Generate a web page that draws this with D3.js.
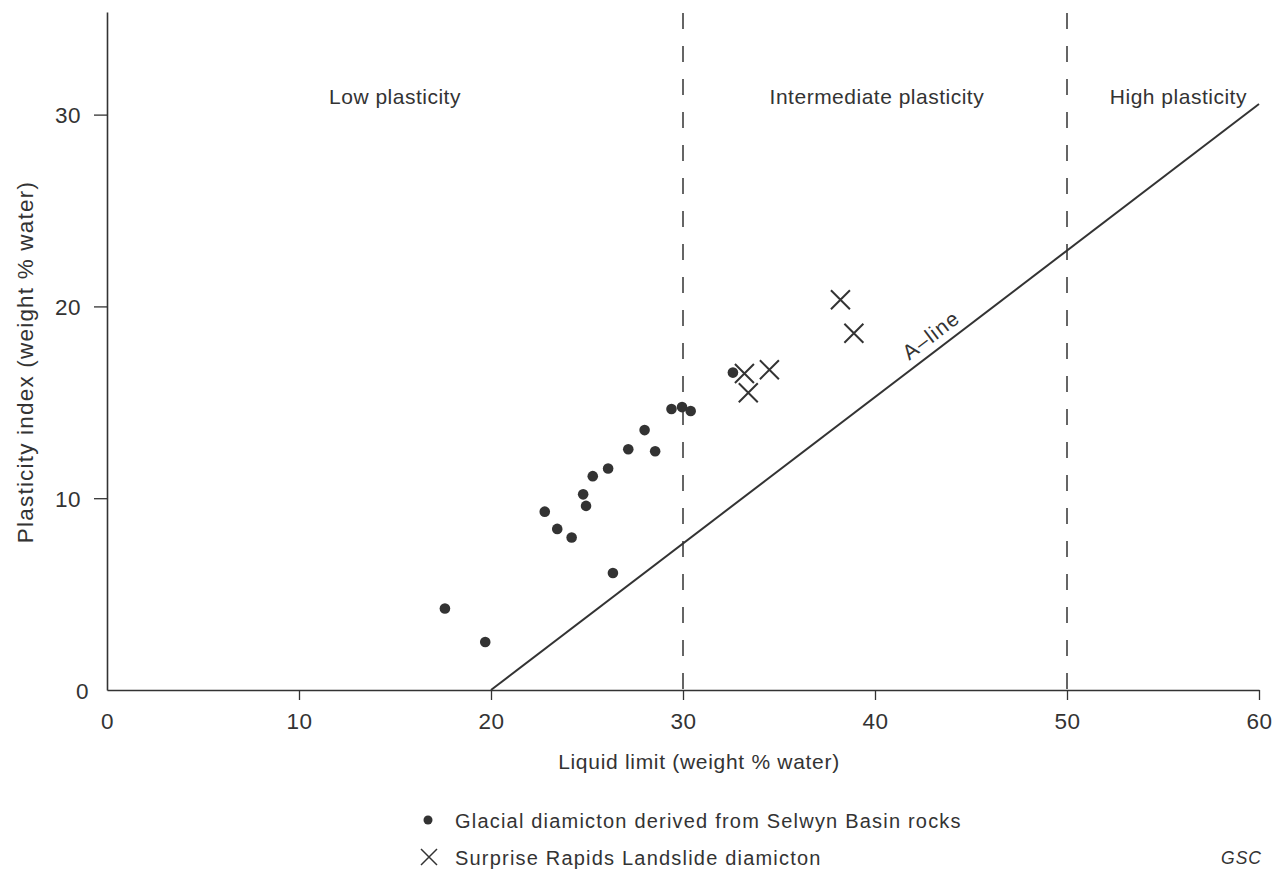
<!DOCTYPE html>
<html>
<head>
<meta charset="utf-8">
<script src="https://cdn.jsdelivr.net/npm/d3@7"></script>
<style>
  body { margin: 0; background: #fff; }
  svg text { font-family: "Liberation Sans", Arial, sans-serif; fill: #333; }
</style>
</head>
<body>
<svg id="chart"></svg>
<script>
const width = 1280;
const height = 872;
const ink = "#333";

// glacial diamicton (Selwyn Basin) : liquid limit, plasticity index
const glacialLL = [17.6, 19.7, 22.8, 23.45, 24.2, 24.8, 24.95, 25.3, 26.1, 26.35, 27.15, 28.0, 28.55, 29.4, 29.95, 30.4, 32.6];
const glacialPI = [4.25, 2.5, 9.3, 8.4, 7.95, 10.2, 9.6, 11.15, 11.55, 6.1, 12.55, 13.55, 12.45, 14.65, 14.75, 14.55, 16.55];

// Surprise Rapids Landslide diamicton
const landslideLL = [38.2, 38.9, 33.2, 34.5, 33.4];
const landslidePI = [20.35, 18.6, 16.5, 16.7, 15.5];

// A-line end points
const aLineLL = [20, 60];
const aLinePI = [0, 30.55];

const xTicks = [0, 10, 20, 30, 40, 50, 60];
const yTicks = [0, 10, 20, 30];
const boundaries = [30, 50];
const zones = [
  { name: "Low plasticity", at: 15 },
  { name: "Intermediate plasticity", at: 40.1 },
  { name: "High plasticity", at: 55.8 },
];

const x = d3.scaleLinear().domain([0, 60]).range([107, 1259]);
const y = d3.scaleLinear().domain([0, 35.35]).range([690, 12]);

const svg = d3.select("#chart").attr("width", width).attr("height", height);

// x axis
const xAxis = svg
  .append("g")
  .attr("transform", `translate(0,${y(0)})`)
  .call(d3.axisBottom(x).tickValues(xTicks).tickSize(10).tickPadding(13).tickSizeOuter(0));
xAxis.select(".domain").attr("stroke", ink).attr("stroke-width", 1.6);
xAxis.selectAll(".tick line").attr("stroke", ink).attr("stroke-width", 1.3)
  .filter((d) => d === 0).remove();
xAxis.selectAll(".tick text").attr("font-size", 22.5).style("font-family", "Liberation Sans, Arial, sans-serif")
  .style("letter-spacing", "0.5px").attr("fill", ink);

// y axis
const yAxis = svg
  .append("g")
  .attr("transform", `translate(${x(0)},0)`)
  .call(d3.axisLeft(y).tickValues(yTicks).tickSize(13).tickPadding(14).tickSizeOuter(0));
yAxis.select(".domain").attr("stroke", ink).attr("stroke-width", 1.6);
yAxis.selectAll(".tick line").attr("stroke", ink).attr("stroke-width", 1.3)
  .filter((d) => d === 0).remove();
yAxis.selectAll(".tick text").attr("font-size", 22.5).style("font-family", "Liberation Sans, Arial, sans-serif")
  .style("letter-spacing", "0.5px").attr("fill", ink)
  .attr("dy", "0.36em").attr("x", (d) => (d === 0 ? -18 : -26));

// axis titles
svg.append("text")
  .attr("x", (x(0) + x(60)) / 2 + 16)
  .attr("y", 769)
  .attr("text-anchor", "middle")
  .attr("font-size", 21)
  .style("letter-spacing", "0.7px")
  .text("Liquid limit (weight % water)");

svg.append("text")
  .attr("transform", `translate(33,${y(17.1)}) rotate(-90)`)
  .attr("text-anchor", "middle")
  .attr("font-size", 22.5)
  .style("letter-spacing", "1.2px")
  .text("Plasticity index (weight % water)");

// boundaries between plasticity classes
svg.append("g")
  .selectAll("line")
  .data(boundaries)
  .join("line")
  .attr("x1", (d) => x(d))
  .attr("x2", (d) => x(d))
  .attr("y1", 13)
  .attr("y2", y(0))
  .attr("stroke", ink)
  .attr("stroke-width", 1.5)
  .attr("stroke-dasharray", "16,17");

svg.append("g")
  .selectAll("text")
  .data(zones)
  .join("text")
  .attr("x", (d) => x(d.at))
  .attr("y", 104)
  .attr("text-anchor", "middle")
  .attr("font-size", 21)
  .style("letter-spacing", "0.5px")
  .text((d) => d.name);

// A-line
const aLine = d3.line().x((d) => x(d[0])).y((d) => y(d[1]));
svg.append("path")
  .datum(d3.zip(aLineLL, aLinePI))
  .attr("d", aLine)
  .attr("fill", "none")
  .attr("stroke", ink)
  .attr("stroke-width", 2);

const angle = (Math.atan2(y(aLinePI[1]) - y(aLinePI[0]), x(aLineLL[1]) - x(aLineLL[0])) * 180) / Math.PI;
const labLL = 43.4;
const labPI = aLinePI[0] + ((labLL - aLineLL[0]) * (aLinePI[1] - aLinePI[0])) / (aLineLL[1] - aLineLL[0]);
svg.append("text")
  .attr("transform", `translate(${x(labLL)},${y(labPI)}) rotate(${angle})`)
  .attr("y", -8)
  .attr("text-anchor", "middle")
  .attr("font-size", 21)
  .style("letter-spacing", "1.2px")
  .text("A\u2013line");

// glacial points
svg.append("g")
  .selectAll("circle")
  .data(d3.zip(glacialLL, glacialPI))
  .join("circle")
  .attr("cx", (d) => x(d[0]))
  .attr("cy", (d) => y(d[1]))
  .attr("r", 5.3)
  .attr("fill", ink);

// landslide crosses
const cross = (s) => `M${-s},${-s}L${s},${s}M${-s},${s}L${s},${-s}`;
svg.append("g")
  .selectAll("path")
  .data(d3.zip(landslideLL, landslidePI))
  .join("path")
  .attr("transform", (d) => `translate(${x(d[0])},${y(d[1])})`)
  .attr("d", cross(9.5))
  .attr("fill", "none")
  .attr("stroke", ink)
  .attr("stroke-width", 2);

// legend
const legend = svg.append("g").attr("transform", "translate(428,0)");
legend.append("circle").attr("cx", 0).attr("cy", 820).attr("r", 4.5).attr("fill", ink);
legend.append("text").attr("x", 27).attr("y", 828).attr("font-size", 20)
  .style("letter-spacing", "1.2px")
  .text("Glacial diamicton derived from Selwyn Basin rocks");
legend.append("path").attr("transform", "translate(1,857)").attr("d", cross(8))
  .attr("fill", "none").attr("stroke", ink).attr("stroke-width", 1.5);
legend.append("text").attr("x", 27).attr("y", 865).attr("font-size", 20)
  .style("letter-spacing", "1.2px")
  .text("Surprise Rapids Landslide diamicton");

svg.append("text")
  .attr("x", 1262)
  .attr("y", 864)
  .attr("text-anchor", "end")
  .attr("font-size", 17.5)
  .attr("font-style", "italic")
  .style("letter-spacing", "1px")
  .text("GSC");
</script>
</body>
</html>
